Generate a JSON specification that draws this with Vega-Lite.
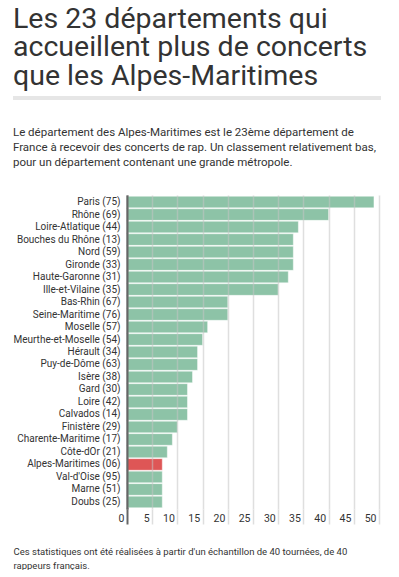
{
  "$schema": "https://vega.github.io/schema/vega-lite/v6.json",
  "background": "white",
  "padding": {"left": 12, "top": 4, "right": 5, "bottom": 0},
  "config": {"font": "Roboto", "view": {"stroke": null}},
  "spacing": 23,
  "vconcat": [
    {
      "width": 368,
      "height": 4,
      "view": {"fill": "#e6e6e6", "stroke": null},
      "title": {
        "text": ["Les 23 départements qui", "accueillent plus de concerts", "que les Alpes-Maritimes"],
        "fontSize": 28.5,
        "fontWeight": "normal",
        "color": "#333333",
        "anchor": "start",
        "lineHeight": 28.5,
        "offset": 2
      },
      "data": {"values": [{"t": ""}]},
      "mark": {"type": "text"},
      "encoding": {"text": {"field": "t"}}
    },
    {
      "width": 366,
      "height": 314,
      "title": {
        "text": ["Le département des Alpes-Maritimes est le 23ème département de", "France à recevoir des concerts de rap. Un classement relativement bas,", "pour un département contenant une grande métropole."],
        "fontSize": 11.5,
        "fontWeight": "normal",
        "color": "#333333",
        "anchor": "start",
        "lineHeight": 15,
        "offset": 27
      },
      "data": {"values": [
        {"departement": "Paris (75)", "concerts": 49},
        {"departement": "Rhône (69)", "concerts": 40},
        {"departement": "Loire-Atlatique (44)", "concerts": 34},
        {"departement": "Bouches du Rhône (13)", "concerts": 33},
        {"departement": "Nord (59)", "concerts": 33},
        {"departement": "Gironde (33)", "concerts": 33},
        {"departement": "Haute-Garonne (31)", "concerts": 32},
        {"departement": "Ille-et-Vilaine (35)", "concerts": 30},
        {"departement": "Bas-Rhin (67)", "concerts": 20},
        {"departement": "Seine-Maritime (76)", "concerts": 20},
        {"departement": "Moselle (57)", "concerts": 16},
        {"departement": "Meurthe-et-Moselle (54)", "concerts": 15},
        {"departement": "Hérault (34)", "concerts": 14},
        {"departement": "Puy-de-Dôme (63)", "concerts": 14},
        {"departement": "Isère (38)", "concerts": 13},
        {"departement": "Gard (30)", "concerts": 12},
        {"departement": "Loire (42)", "concerts": 12},
        {"departement": "Calvados (14)", "concerts": 12},
        {"departement": "Finistère (29)", "concerts": 10},
        {"departement": "Charente-Maritime (17)", "concerts": 9},
        {"departement": "Côte-dOr (21)", "concerts": 8},
        {"departement": "Alpes-Maritimes (06)", "concerts": 7},
        {"departement": "Val-d'Oise (95)", "concerts": 7},
        {"departement": "Marne (51)", "concerts": 7},
        {"departement": "Doubs (25)", "concerts": 7}
      ]},
      "mark": {"type": "bar", "stroke": "#ffffff", "strokeOpacity": 0.45, "strokeWidth": 1},
      "encoding": {
        "y": {
          "field": "departement",
          "type": "nominal",
          "sort": null,
          "scale": {"paddingInner": 0.07, "paddingOuter": 0.1},
          "axis": {
            "title": null,
            "offset": -114,
            "domainColor": "#666666",
            "domainWidth": 2,
            "ticks": false,
            "labelPadding": 7,
            "labelFontSize": 10,
            "labelColor": "#333333",
            "labelLimit": 200
          }
        },
        "x": {
          "field": "concerts",
          "type": "quantitative",
          "scale": {"domain": [0, 50], "nice": false, "range": [114, 366]},
          "axis": {
            "title": ["Ces statistiques ont été réalisées à partir d'un échantillon de 40 tournées, de 40", "rappeurs français."],
            "titleX": 0,
            "titleY": 45,
            "titleAlign": "left",
            "titleAnchor": "start",
            "titleBaseline": "alphabetic",
            "titleFontSize": 9.5,
            "titleFontWeight": "normal",
            "titleColor": "#333333",
            "titleLineHeight": 14,
            "values": [0, 5, 10, 15, 20, 25, 30, 35, 40, 45, 50],
            "domain": false,
            "grid": true,
            "gridColor": {"condition": {"test": "datum.value === 0", "value": "#666666"}, "value": "#c4c4c4"},
            "gridOpacity": {"condition": {"test": "datum.value === 0", "value": 1}, "value": 0.55},
            "gridWidth": {"condition": {"test": "datum.value === 0", "value": 2}, "value": 1.5},
            "tickSize": 15,
            "tickColor": {"condition": {"test": "datum.value === 0", "value": "#666666"}, "value": "#dedede"},
            "tickWidth": {"condition": {"test": "datum.value === 0", "value": 2}, "value": 1.5},
            "labelAlign": "right",
            "labelOffset": -3,
            "labelPadding": -3,
            "labelBaseline": "alphabetic",
            "labelFontSize": 10.5,
            "labelColor": "#333333",
            "zindex": 1
          }
        },
        "color": {
          "condition": {"test": "datum.departement === 'Alpes-Maritimes (06)'", "value": "#de5656"},
          "value": "#8dc3a7"
        }
      }
    }
  ]
}
